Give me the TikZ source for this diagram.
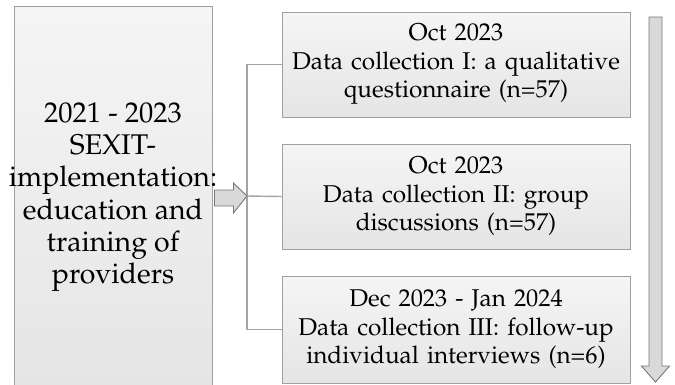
\documentclass[tikz,border=0pt]{standalone}
\usepackage[T1]{fontenc}
\usepackage{mathpazo}
\usetikzlibrary{calc}
\definecolor{boxline}{RGB}{160,160,160}
\definecolor{boxtop}{RGB}{245,245,245}
\definecolor{boxbot}{RGB}{229,229,229}
\definecolor{linkgray}{RGB}{165,165,165}
\definecolor{arrowfill}{RGB}{217,217,217}
\definecolor{arrowline}{RGB}{120,120,120}
\tikzset{
  phase/.style={draw=boxline, line width=0.9pt, top color=boxtop, bottom color=boxbot,
    align=center, inner sep=0pt, text=black},
  stagebox/.style={phase, minimum width=348pt, text width=346pt,
    font=\fontsize{24.3}{28.5}\selectfont},
  link/.style={draw=linkgray, line width=1.4pt},
  blockarrow/.style={draw=arrowline, fill=arrowfill, line width=0.9pt, line join=miter}
}
\begin{document}
\begin{tikzpicture}[x=1pt,y=-1pt]
\useasboundingbox (0,0) rectangle (675,384);

% implementation phase
\node[phase, minimum width=198pt, minimum height=382pt] (impl) at (113,197) {};
\node[align=center, inner sep=0pt, font=\fontsize{28.5}{32.3}\selectfont]
  (impltext) at (impl.center)
  {2021 - 2023\\SEXIT-\\implementation:\\education and\\training of\\providers};

% data collection stages
\node[stagebox, minimum height=105pt] (c1) at (456,64.5)
  {Oct 2023\\Data collection I: a qualitative\\questionnaire (n=57)};
\node[stagebox, minimum height=105pt] (c2) at (456,196.5)
  {Oct 2023\\Data collection II: group\\discussions (n=57)};
\node[stagebox, minimum height=107pt] (c3) at (456,329.5)
  {Dec 2023 - Jan 2024\\Data collection III: follow-up\\individual interviews (n=6)};

% bracket joining the stages
\coordinate (bx) at (247,196);
\draw[link] (c1.west) -| (bx |- c3.west) -- (c3.west);
\draw[link] (bx) -- (c2.west);

% block arrow from the implementation box to the bracket
\draw[blockarrow] ($(impl.east)+(2,-7)$) -- ++(19,0) -- ++(0,-7) -- (bx)
  -- ($(impl.east)+(21,16)$) -- ++(0,-7) -- ++(-19,0) -- cycle;

% time arrow
\coordinate (ttop) at (655.5,17);
\coordinate (tend) at (655.5,382);
\draw[blockarrow] ($(ttop)+(-6.5,0)$) -- ($(ttop)+(6.5,0)$) -- ($(tend)+(6.5,-16)$)
  -- ($(tend)+(14,-16)$) -- (tend) -- ($(tend)+(-14,-16)$) -- ($(tend)+(-6.5,-16)$) -- cycle;
\end{tikzpicture}
\end{document}
